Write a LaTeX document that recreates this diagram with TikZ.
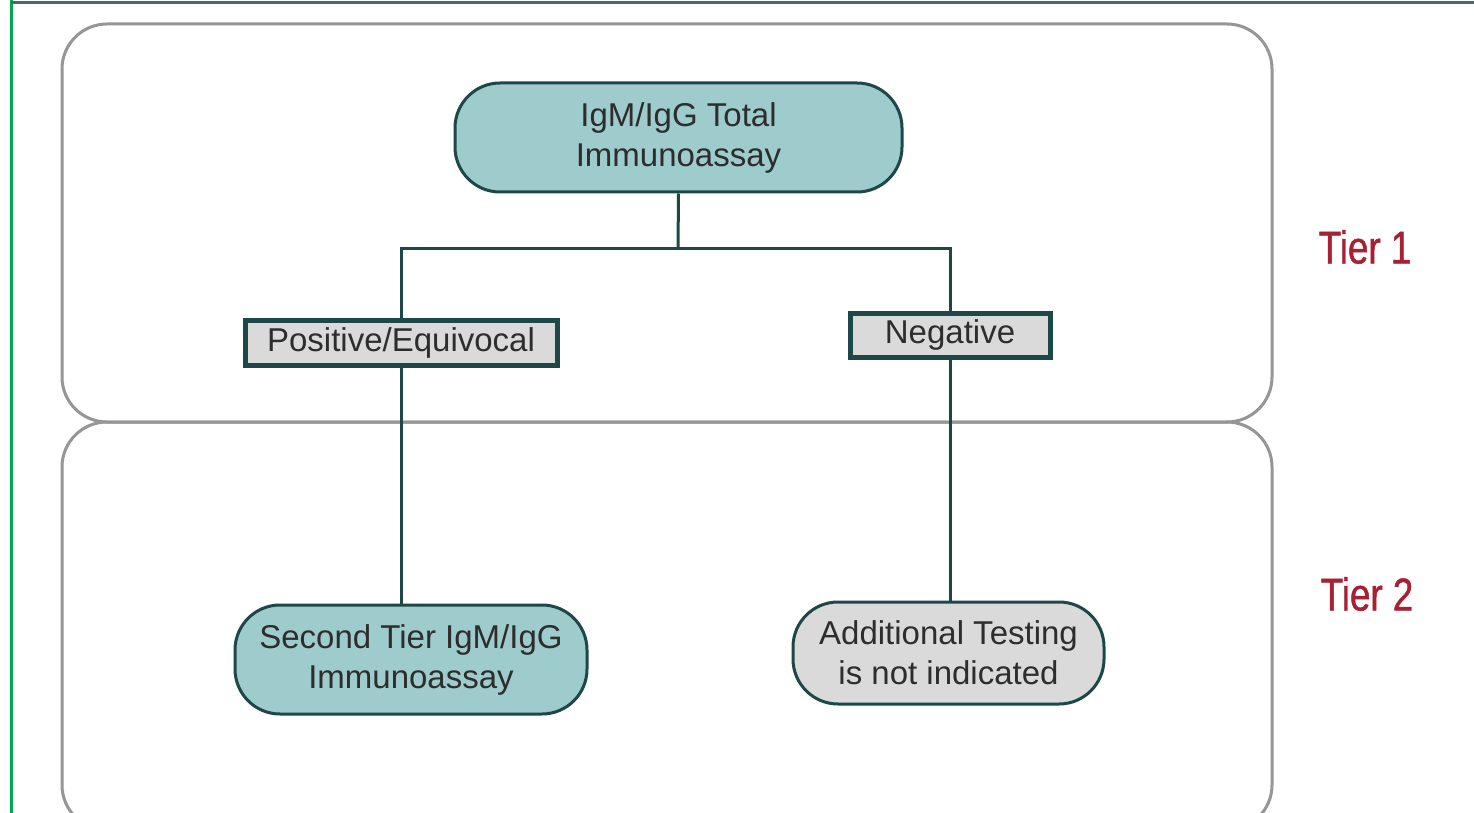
\documentclass[tikz,border=0pt]{standalone}
\usepackage{fontspec}
\setmainfont{Liberation Sans}
\newfontfamily\tierfont[FakeStretch=0.8,FakeBold=1]{Liberation Sans}
\definecolor{tealfill}{RGB}{158,203,204}
\definecolor{tealdark}{RGB}{30,72,72}
\definecolor{grayfill}{RGB}{218,218,218}
\definecolor{tiergray}{RGB}{150,150,150}
\definecolor{tierred}{RGB}{168,32,52}
\definecolor{framegreen}{RGB}{0,168,80}
\definecolor{frametop}{RGB}{70,105,105}
\definecolor{txt}{RGB}{45,45,45}
\tikzset{
  tierbox/.style={draw=tiergray, line width=3pt, rounded corners=45pt},
  pill/.style={draw=tealdark, line width=3pt, rounded corners=45pt, text=txt,
    font=\fontsize{33}{40}\selectfont, align=center, inner sep=0pt},
  tealpill/.style={pill, fill=tealfill},
  graypill/.style={pill, fill=grayfill},
  result/.style={draw=tealdark, line width=5pt, fill=grayfill, text=txt,
    font=\fontsize{33}{40}\selectfont, inner sep=0pt},
  conn/.style={draw=tealdark, line width=3pt},
  tierlabel/.style={text=tierred, font=\tierfont\fontsize{46}{50}\selectfont, inner sep=0pt}
}
\begin{document}
\begin{tikzpicture}[x=1pt,y=-1pt]
\useasboundingbox (0,0) rectangle (1474,813);
\clip (0,0) rectangle (1474,813);
\fill[white] (0,0) rectangle (1474,813);
% frame
\draw[framegreen, line width=3pt] (11,0) -- (11,813);
\draw[frametop, line width=3pt] (11,3) -- (1474,3);
% tiers
\draw[tierbox] (62,24) rectangle (1272,422);
\draw[tierbox] (62,422) rectangle (1272,830);
\node[tierlabel] (t1) at (1365,247) {Tier 1};
\node[tierlabel] (t2) at (1367,594) {Tier 2};
% nodes
\node[tealpill, minimum width=447pt, minimum height=109pt] (top) at (678.5,137.5) {IgM/IgG Total\\Immunoassay};
\node[result, minimum width=312pt, minimum height=45pt] (pos) at (401,342.5) {Positive/Equivocal};
\node[result, minimum width=200pt, minimum height=44pt] (neg) at (950,335) {Negative};
\node[tealpill, minimum width=352pt, minimum height=109pt] (sec) at (411,659.5) {Second Tier IgM/IgG\\Immunoassay};
\node[graypill, minimum width=311pt, minimum height=102pt] (add) at (948.5,653) {Additional Testing\\is not indicated};
\coordinate (j) at (678,248);
% connectors
\draw[conn] (top.south) -- (j);
\draw[conn] (pos.north) |- (j) -| (neg.north);
\draw[conn] (pos.south) -- (pos.south |- sec.north);
\draw[conn] (neg.south) -- (neg.south |- add.north);
\end{tikzpicture}
\end{document}
